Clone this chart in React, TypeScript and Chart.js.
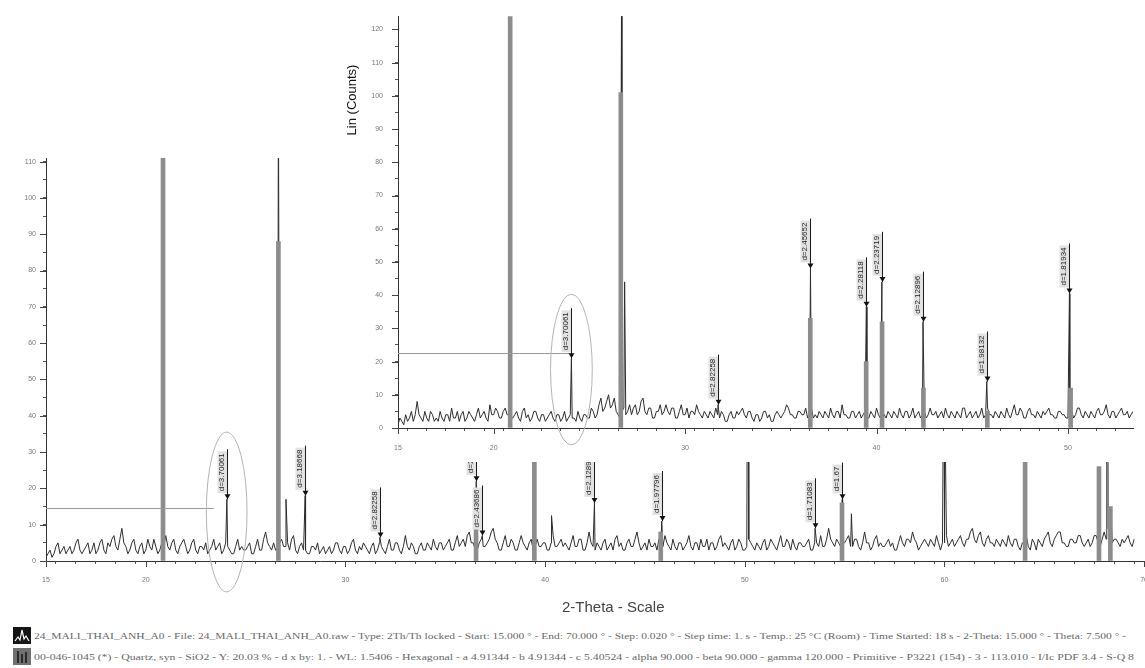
import React, { useEffect, useRef } from "react";
import { Chart, registerables } from "chart.js";

Chart.register(...registerables);

const SANS = '"Liberation Sans", Arial, sans-serif';

// ---------------- main scan (lower, large chart) ----------------
const mainStart = 15.0;
const mainStep = 0.1;
const mainNoise = [
  1, 2, 3, 1, 2, 4, 5, 2, 3, 4, 2, 3, 4, 2, 3, 5, 6, 3, 2, 3,
  4, 5, 2, 3, 5, 2, 3, 5, 6, 3, 2, 5, 4, 6, 7, 4, 3, 6, 9, 5,
  4, 2, 3, 5, 6, 3, 2, 4, 5, 2, 3, 6, 4, 3, 6, 4, 2, 3, 5, 4,
  7, 4, 3, 5, 6, 3, 2, 4, 5, 6, 4, 2, 3, 5, 6, 3, 2, 4, 4, 3,
  5, 2, 3, 4, 6, 3, 4, 5, 2, 3, 5, 4, 3, 2, 2, 4, 6, 3, 4, 3,
  3, 4, 5, 2, 2, 4, 6, 3, 3, 6, 8, 5, 4, 3, 5, 3, 3, 5, 6, 4,
  4, 5, 3, 6, 7, 3, 2, 4, 5, 3, 3, 2, 2, 4, 4, 3, 5, 2, 3, 4,
  2, 3, 4, 2, 3, 5, 5, 3, 2, 4, 4, 2, 3, 5, 6, 3, 2, 4, 3, 5,
  4, 3, 2, 4, 5, 2, 3, 5, 4, 3, 2, 4, 6, 3, 3, 5, 5, 3, 2, 4,
  7, 4, 3, 5, 4, 2, 2, 4, 5, 3, 3, 5, 4, 3, 6, 4, 3, 5, 5, 3,
  4, 5, 6, 3, 3, 5, 7, 4, 5, 6, 4, 7, 8, 5, 5, 3, 3, 5, 6, 4,
  4, 5, 6, 8, 9, 6, 5, 3, 3, 5, 7, 4, 4, 6, 5, 3, 3, 5, 7, 5,
  4, 3, 5, 6, 3, 4, 6, 4, 4, 5, 5, 3, 3, 5, 7, 4, 4, 5, 6, 4,
  5, 4, 3, 5, 7, 4, 4, 6, 6, 3, 3, 5, 8, 5, 4, 3, 5, 4, 3, 5,
  6, 3, 4, 5, 3, 6, 7, 4, 5, 3, 3, 5, 6, 4, 4, 6, 8, 5, 3, 4,
  5, 3, 6, 4, 4, 5, 3, 6, 5, 4, 7, 5, 4, 3, 6, 4, 3, 5, 5, 3,
  4, 5, 7, 4, 3, 5, 5, 3, 6, 4, 4, 6, 3, 5, 5, 3, 4, 6, 7, 4,
  5, 4, 3, 5, 6, 3, 4, 6, 5, 3, 3, 4, 6, 5, 4, 3, 5, 4, 3, 5,
  6, 3, 4, 6, 5, 4, 3, 5, 7, 4, 4, 6, 5, 3, 6, 4, 3, 5, 5, 4,
  4, 5, 6, 3, 3, 5, 5, 4, 7, 4, 4, 6, 9, 6, 5, 4, 6, 5, 4, 5,
  5, 6, 7, 4, 4, 6, 6, 4, 3, 5, 8, 5, 5, 3, 4, 6, 7, 4, 5, 4,
  4, 5, 6, 4, 5, 3, 3, 5, 7, 5, 4, 6, 6, 5, 8, 6, 5, 3, 4, 5,
  6, 5, 4, 6, 5, 4, 7, 5, 3, 5, 5, 7, 4, 5, 6, 4, 5, 6, 7, 5,
  4, 6, 6, 8, 9, 6, 5, 7, 8, 5, 4, 6, 7, 5, 5, 4, 6, 5, 4, 6,
  5, 4, 7, 5, 4, 6, 6, 4, 3, 5, 5, 7, 4, 3, 6, 5, 3, 6, 5, 4,
  6, 7, 8, 5, 4, 6, 7, 8, 8, 5, 5, 4, 4, 6, 6, 5, 5, 7, 7, 5,
  4, 5, 6, 4, 5, 7, 7, 5, 4, 6, 8, 6, 9, 7, 5, 6, 6, 5, 4, 6,
  5, 6, 7, 5, 4, 6,
];
const mainPeakTheta = [20.86, 24.06, 26.64, 27.02, 27.98, 31.72, 36.55, 36.85, 39.48, 40.32, 42.47, 45.84, 50.12, 50.15, 50.18, 53.52, 54.88, 55.34, 59.95, 59.98, 60.01, 64.04, 67.76, 68.13, 68.16, 68.19, 68.34];
const mainPeakCounts = [130, 17, 130, 17, 18, 6.5, 22, 7, 24, 12.5, 16, 11, 40, 60, 45, 9, 17, 13, 45, 60, 50, 6, 20, 45, 60, 40, 14];

// reference sticks (Quartz 00-046-1045) as drawn on the main chart
const mainRefTheta = [20.86, 26.64, 36.54, 39.46, 45.79, 54.87, 64.04, 67.74, 68.31];
const mainRefCounts = [130, 88, 20, 60, 8, 16, 60, 26, 15];

const mainAnnoTheta = [24.06, 27.98, 31.72, 36.55, 36.85, 42.47, 45.84, 53.52, 54.88];
const mainAnnoCounts = [17, 18, 6.5, 22, 7, 16, 11, 9, 17];
const mainAnnoText = ["d=3.70061", "d=3.18668", "d=2.82258", "d=2.45652", "d=2.43686", "d=2.12896", "d=1.97796", "d=1.71083", "d=1.67"];

const mainXTickLabels = [15, 20, 30, 40, 50, 60, 70];
const mainYTickLabels = [0, 10, 20, 30, 40, 50, 60, 70, 80, 90, 100, 110];

// ---------------- inset scan (upper chart) ----------------
const insetStart = 15.0;
const insetStep = 0.1;
const insetNoise = [
  1, 3, 2, 1, 4, 2, 3, 5, 2, 4, 8, 4, 3, 2, 5, 3, 2, 5, 4, 2,
  3, 2, 5, 3, 2, 4, 4, 2, 6, 3, 3, 5, 2, 4, 5, 2, 3, 5, 4, 3,
  2, 4, 6, 3, 4, 5, 3, 2, 7, 4, 4, 6, 5, 3, 3, 5, 6, 4, 4, 3,
  3, 4, 5, 3, 2, 5, 6, 3, 4, 2, 3, 5, 5, 3, 2, 4, 4, 2, 3, 4,
  5, 3, 2, 4, 4, 2, 3, 5, 2, 3, 4, 3, 3, 2, 5, 3, 2, 4, 4, 3,
  3, 6, 5, 3, 4, 7, 9, 5, 6, 8, 10, 6, 7, 9, 5, 4, 3, 5, 6, 4,
  5, 7, 4, 6, 7, 4, 5, 8, 9, 5, 4, 6, 6, 3, 3, 5, 5, 7, 4, 5,
  7, 5, 4, 6, 6, 3, 3, 5, 7, 4, 4, 6, 3, 5, 5, 4, 7, 5, 4, 3,
  5, 4, 3, 5, 4, 3, 6, 4, 3, 5, 4, 2, 2, 4, 5, 3, 3, 5, 4, 5,
  6, 4, 3, 5, 5, 3, 2, 4, 4, 2, 3, 5, 5, 3, 4, 2, 2, 4, 5, 4,
  3, 4, 5, 7, 6, 4, 4, 3, 3, 5, 5, 4, 4, 6, 3, 5, 6, 3, 4, 3,
  5, 4, 3, 5, 4, 3, 6, 4, 3, 5, 5, 3, 7, 4, 4, 3, 3, 5, 5, 3,
  4, 5, 3, 4, 5, 3, 3, 5, 4, 3, 6, 4, 3, 5, 4, 3, 5, 4, 3, 5,
  4, 3, 6, 4, 3, 5, 5, 3, 4, 6, 3, 4, 5, 3, 4, 5, 3, 4, 6, 4,
  4, 5, 3, 4, 5, 3, 6, 4, 3, 5, 4, 3, 5, 4, 3, 6, 6, 3, 4, 5,
  3, 4, 5, 3, 4, 6, 3, 4, 6, 4, 4, 3, 5, 4, 3, 5, 4, 3, 6, 4,
  3, 5, 7, 4, 4, 6, 5, 3, 3, 5, 6, 4, 4, 3, 5, 4, 3, 5, 4, 5,
  6, 4, 4, 3, 3, 5, 5, 4, 4, 3, 3, 5, 5, 3, 4, 6, 6, 4, 3, 5,
  4, 3, 5, 4, 3, 5, 6, 4, 4, 5, 7, 4, 3, 5, 5, 3, 4, 5, 6, 4,
  4, 5, 3, 4, 5,
];
const insetPeakTheta = [20.88, 24.06, 26.68, 26.84, 31.72, 36.55, 39.47, 40.28, 42.43, 45.76, 50.08];
const insetPeakCounts = [46, 21, 130, 44, 7, 48, 36.5, 44, 32, 14, 40.5];

const insetRefTheta = [20.86, 26.64, 36.54, 39.46, 40.29, 42.45, 45.79, 50.14];
const insetRefCounts = [130, 101, 33, 20, 32, 12, 5, 12];

const insetAnnoTheta = [24.06, 31.72, 36.55, 39.47, 40.28, 42.43, 45.76, 50.08];
const insetAnnoCounts = [21, 7, 48, 36.5, 44, 32, 14, 40.5];
const insetAnnoText = ["d=3.70061", "d=2.82258", "d=2.45652", "d=2.28118", "d=2.23719", "d=2.12896", "d=1.98132", "d=1.81934"];

const insetXTickLabels = [15, 20, 30, 40, 50];
const insetYTickLabels = [0, 10, 20, 30, 40, 50, 60, 70, 80, 90, 100, 110, 120];

const legendRow1 =
  "24_MALI_THAI_ANH_A0 - File: 24_MALI_THAI_ANH_A0.raw - Type: 2Th/Th locked - Start: 15.000 ° - End: 70.000 ° - Step: 0.020 ° - Step time: 1. s - Temp.: 25 °C (Room) - Time Started: 18 s - 2-Theta: 15.000 ° - Theta: 7.500 ° -";
const legendRow2 =
  "00-046-1045 (*) - Quartz, syn - SiO2 - Y: 20.03 % - d x by: 1. - WL: 1.5406 - Hexagonal - a 4.91344 - b 4.91344 - c 5.40524 - alpha 90.000 - beta 90.000 - gamma 120.000 - Primitive - P3221 (154) - 3 - 113.010 - I/Ic PDF 3.4 - S-Q 8";

// -----------------------------------------------------------------
function buildSeries(start: number, step: number, noise: number[], pt: number[], pc: number[]) {
  const pts = noise.map((v, i) => ({ x: +(start + i * step).toFixed(2), y: v }));
  pt.forEach((t, i) => pts.push({ x: t, y: pc[i] }));
  pts.sort((a, b) => a.x - b.x);
  return pts;
}

const decorPlugin = {
  id: "xrdDecor",
  afterDraw(chart: any, _args: any, opts: any) {
    const { ctx, chartArea } = chart;
    const xs = chart.scales.x;
    const ys = chart.scales.y;
    ctx.save();
    ctx.strokeStyle = "#444";
    ctx.lineWidth = 1;
    (opts.xMajor || []).forEach((v: number) => {
      if (v < xs.min || v > xs.max) return;
      const px = Math.round(xs.getPixelForValue(v)) + 0.5;
      ctx.beginPath();
      ctx.moveTo(px, chartArea.bottom);
      ctx.lineTo(px, chartArea.bottom + 6);
      ctx.stroke();
    });
    (opts.yMajor || []).forEach((v: number) => {
      const py = Math.round(ys.getPixelForValue(v)) + 0.5;
      ctx.beginPath();
      ctx.moveTo(chartArea.left, py);
      ctx.lineTo(chartArea.left - 6, py);
      ctx.stroke();
    });
    if (opts.hline) {
      const h = opts.hline;
      const py = Math.round(ys.getPixelForValue(h.y)) + 0.5;
      ctx.strokeStyle = "#9a9a9a";
      ctx.beginPath();
      ctx.moveTo(xs.getPixelForValue(h.x0), py);
      ctx.lineTo(xs.getPixelForValue(h.x1), py);
      ctx.stroke();
    }
    if (opts.ellipse) {
      const e = opts.ellipse;
      const cx = xs.getPixelForValue(e.x);
      const cy = ys.getPixelForValue(e.y);
      const rx = Math.abs(xs.getPixelForValue(e.x + e.rx) - cx);
      const ry = Math.abs(ys.getPixelForValue(e.y + e.ry) - cy);
      ctx.strokeStyle = "#b4b4b4";
      ctx.beginPath();
      ctx.ellipse(cx, cy, rx, ry, 0, 0, Math.PI * 2);
      ctx.stroke();
    }
    ctx.font = `8px ${SANS}`;
    (opts.annos || []).forEach((a: any) => {
      const px = Math.round(xs.getPixelForValue(a.x)) + 0.5;
      const py = ys.getPixelForValue(a.y);
      const tw = ctx.measureText(a.text).width;
      const bottom = py - 6;
      const top = bottom - tw - 4;
      ctx.fillStyle = "#e2e2e2";
      ctx.fillRect(px - 10, top, 9.5, tw + 4);
      ctx.strokeStyle = "#1a1a1a";
      ctx.beginPath();
      ctx.moveTo(px, py);
      ctx.lineTo(px, top - 2);
      ctx.stroke();
      ctx.save();
      ctx.translate(px - 2, bottom - 2);
      ctx.rotate(-Math.PI / 2);
      ctx.fillStyle = "#222";
      ctx.textAlign = "left";
      ctx.textBaseline = "bottom";
      ctx.fillText(a.text, 0, 0);
      ctx.restore();
      ctx.fillStyle = "#111";
      ctx.beginPath();
      ctx.moveTo(px - 3, py - 5);
      ctx.lineTo(px + 3, py - 5);
      ctx.lineTo(px, py);
      ctx.closePath();
      ctx.fill();
    });
    if (opts.yTitle) {
      const t = opts.yTitle;
      ctx.save();
      ctx.translate(t.x, t.y);
      ctx.rotate(-Math.PI / 2);
      ctx.font = `13px ${SANS}`;
      ctx.fillStyle = "#111";
      ctx.textAlign = "center";
      ctx.textBaseline = "middle";
      ctx.fillText(t.text, 0, 0);
      ctx.restore();
    }
    ctx.restore();
  },
};

function makeConfig(p: any) {
  const series = buildSeries(p.start, p.step, p.noise, p.peakTheta, p.peakCounts);
  const refs = p.refTheta.map((t: number, i: number) => ({ x: t, y: p.refCounts[i] }));
  const annos = p.annoTheta.map((t: number, i: number) => ({ x: t, y: p.annoCounts[i], text: p.annoText[i] }));
  const tickFont = { family: SANS, size: 7 };
  return {
    type: "line",
    data: {
      datasets: [
        { type: "bar", data: refs, backgroundColor: "#8c8c8c", barThickness: 4, order: 0 },
        { type: "line", data: series, borderColor: "#2c2c2c", borderWidth: 1, pointRadius: 0, tension: 0, order: 1 },
      ],
    },
    options: {
      responsive: false,
      animation: false,
      devicePixelRatio: 1,
      layout: { padding: p.padding },
      plugins: {
        legend: { display: false },
        tooltip: { enabled: false },
        xrdDecor: {
          xMajor: p.xLabels,
          yMajor: p.yLabels,
          hline: p.hline,
          ellipse: p.ellipse,
          annos,
          yTitle: p.yTitle,
        },
      },
      scales: {
        x: {
          type: "linear",
          min: p.xMin,
          max: p.xMax,
          offset: false,
          afterFit: (s: any) => {
            s.height = p.xAxisH;
          },
          afterBuildTicks: (s: any) => {
            const t: any[] = [];
            for (let v = p.xMin; v <= p.xMax; v += 1) t.push({ value: v });
            s.ticks = t;
          },
          ticks: {
            autoSkip: false,
            maxRotation: 0,
            padding: p.xPad,
            color: "#777",
            font: tickFont,
            callback: (v: number) => (p.xLabels.includes(v) ? String(v) : ""),
          },
          grid: { drawOnChartArea: false, drawTicks: true, tickLength: 3, color: "#555" },
          border: { display: true, color: "#333", width: 1 },
        },
        y: {
          type: "linear",
          min: 0,
          max: p.yMax,
          afterFit: (s: any) => {
            s.width = p.yAxisW;
          },
          afterBuildTicks: (s: any) => {
            const t: any[] = [];
            for (let v = 0; v <= p.yMax; v += 5) t.push({ value: v });
            s.ticks = t;
          },
          ticks: {
            autoSkip: false,
            padding: p.yPad,
            color: "#777",
            font: tickFont,
            callback: (v: number) => (p.yLabels.includes(v) ? String(v) : ""),
          },
          grid: { drawOnChartArea: false, drawTicks: true, tickLength: 3, color: "#555" },
          border: { display: true, color: "#333", width: 1 },
        },
      },
    },
    plugins: [decorPlugin],
  } as any;
}

function ChartCanvas({ config, style, width, height }: any) {
  const ref = useRef<HTMLCanvasElement>(null);
  useEffect(() => {
    if (!ref.current) return;
    const c = new Chart(ref.current, config);
    return () => c.destroy();
  }, []);
  return <canvas ref={ref} width={width} height={height} style={{ position: "absolute", width, height, ...style }} />;
}

function FitText({ text, left, top, width, style }: any) {
  const ref = useRef<HTMLSpanElement>(null);
  useEffect(() => {
    const el = ref.current;
    if (!el) return;
    el.style.transform = "none";
    const w = el.getBoundingClientRect().width;
    if (w > 0) el.style.transform = `scaleX(${width / w})`;
  }, [text, width]);
  return (
    <span
      ref={ref}
      style={{ position: "absolute", left, top, whiteSpace: "nowrap", transformOrigin: "left top", display: "inline-block", ...style }}
    >
      {text}
    </span>
  );
}

export default function App() {
  const mainConfig = makeConfig({
    start: mainStart, step: mainStep, noise: mainNoise,
    peakTheta: mainPeakTheta, peakCounts: mainPeakCounts,
    refTheta: mainRefTheta, refCounts: mainRefCounts,
    annoTheta: mainAnnoTheta, annoCounts: mainAnnoCounts, annoText: mainAnnoText,
    xLabels: mainXTickLabels, yLabels: mainYTickLabels,
    xMin: 15, xMax: 70, yMax: 111,
    padding: { top: 158, left: 0, right: 8, bottom: 0 },
    xAxisH: 39, yAxisW: 46, xPad: 12, yPad: 7,
    hline: { x0: 15, x1: 23.4, y: 14.5 },
    ellipse: { x: 24.05, y: 13.5, rx: 1.02, ry: 22 },
  });
  const insetConfig = makeConfig({
    start: insetStart, step: insetStep, noise: insetNoise,
    peakTheta: insetPeakTheta, peakCounts: insetPeakCounts,
    refTheta: insetRefTheta, refCounts: insetRefCounts,
    annoTheta: insetAnnoTheta, annoCounts: insetAnnoCounts, annoText: insetAnnoText,
    xLabels: insetXTickLabels, yLabels: insetYTickLabels,
    xMin: 15, xMax: 53.4, yMax: 124,
    padding: { top: 12, left: 0, right: 12, bottom: 0 },
    xAxisH: 34, yAxisW: 68, xPad: 13, yPad: 12,
    hline: { x0: 15, x1: 24.0, y: 22.7 },
    ellipse: { x: 24.06, y: 17.6, rx: 1.09, ry: 22.7 },
    yTitle: { x: 22, y: 100, text: "Lin (Counts)" },
  });

  return (
    <div style={{ position: "absolute", left: 0, top: 0, width: 1145, height: 668, overflow: "hidden", background: "#fff" }}>
      <ChartCanvas config={mainConfig} width={1160} height={600} style={{ left: 0, top: 0 }} />
      <ChartCanvas config={insetConfig} width={815} height={462} style={{ left: 330, top: 0, background: "#fff" }} />
      <div style={{ position: "absolute", left: 562, top: 598, font: `15px ${SANS}`, color: "#444", whiteSpace: "nowrap" }}>
        2-Theta - Scale
      </div>
      <svg width={18} height={17} style={{ position: "absolute", left: 13, top: 627 }}>
        <rect x={0} y={0} width={18} height={17} fill="#151515" />
        <polyline points="2,14 5,10 7,13 9,3 11,12 13,9 16,14" stroke="#fff" strokeWidth={1.2} fill="none" />
      </svg>
      <svg width={18} height={17} style={{ position: "absolute", left: 13, top: 648 }}>
        <rect x={0} y={0} width={18} height={17} fill="#707070" />
        <rect x={4} y={3} width={2} height={12} fill="#2a2a2a" />
        <rect x={8} y={6} width={2} height={9} fill="#2a2a2a" />
        <rect x={12} y={4} width={2} height={11} fill="#2a2a2a" />
      </svg>
      <FitText text={legendRow1} left={34} top={631} width={1092} style={{ font: '9px "Liberation Serif", serif', color: "#666" }} />
      <FitText text={legendRow2} left={34} top={652} width={1100} style={{ font: '9px "Liberation Serif", serif', color: "#666" }} />
    </div>
  );
}
